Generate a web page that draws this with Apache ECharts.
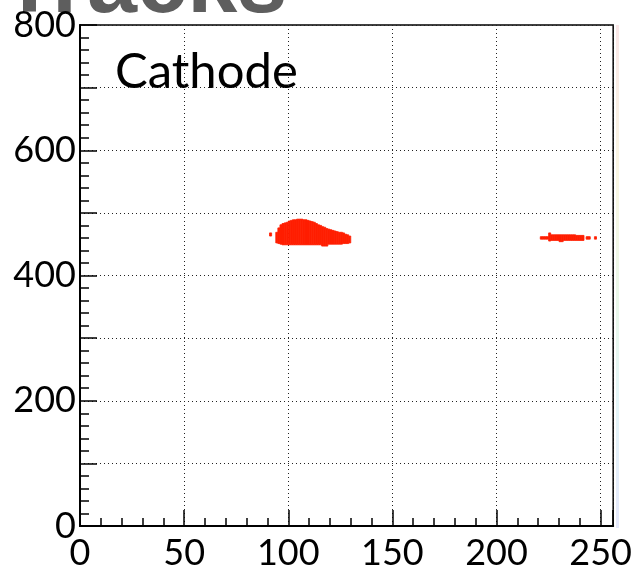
<!DOCTYPE html>
<html>
<head>
<meta charset="utf-8">
<script src="https://cdn.jsdelivr.net/npm/echarts@6/dist/echarts.min.js"></script>
<style>
  html, body { margin: 0; padding: 0; background: #fff; }
  #chart { width: 635px; height: 571px; }
</style>
</head>
<body>
<div id="chart"></div>
<script>
// Hit map: each filled column is one x bin (width 1) spanning [low, high] in y.
const hitCol  = [91,
  94, 95, 96, 97, 98, 99, 100, 101, 102, 103, 104, 105, 106, 107, 108, 109, 110,
  111, 112, 113, 114, 115, 116, 117, 118, 119, 120, 121, 122, 123, 124, 125, 126,
  127, 128, 129,
  221, 222, 223, 224, 225, 226, 227, 228, 229, 230, 231, 232, 233, 234, 235, 236,
  237, 238, 239, 240, 241, 243, 244, 247];
const hitLow  = [463,
  452, 451, 450, 449, 449, 449, 449, 449, 449, 449, 449, 449, 449, 449, 449, 449, 449,
  449, 449, 449, 449, 449, 447, 447, 447, 450, 450, 450, 450, 450, 450, 450, 451,
  451, 451, 452,
  458, 458, 458, 458, 455, 456, 456, 456, 456, 454, 454, 456, 456, 456, 456, 456,
  456, 456, 456, 456, 456, 458, 458, 458];
const hitHigh = [468,
  469, 476, 481, 483, 484, 485, 487, 488, 489, 489, 490, 490, 490, 489, 489, 488, 487,
  486, 485, 483, 481, 480, 478, 477, 475, 474, 473, 472, 471, 470, 469, 469, 468,
  466, 465, 463,
  462, 462, 462, 462, 468, 465, 465, 465, 465, 465, 465, 465, 465, 465, 465, 465,
  465, 464, 464, 464, 464, 462, 462, 462];

const xTicks = [0, 50, 100, 150, 200, 250];
const yTicks = [0, 200, 400, 600, 800];

const hits = hitCol.map((x, i) => [x, hitLow[i], hitHigh[i]]);

const labelFont = 'Lato, "Liberation Sans", sans-serif';
const gridDots = { color: '#222', width: 1, type: [1, 3] };
const hitRed = '#ff1e00';

const chart = echarts.init(document.getElementById('chart'), null, { renderer: 'canvas' });

chart.setOption({
  animation: false,
  backgroundColor: '#fff',
  grid: {
    left: 80, top: 25, width: 535, height: 503,
    show: true, borderColor: '#000', borderWidth: 1.5, backgroundColor: 'transparent'
  },
  xAxis: [
    {
      type: 'value', min: 0, max: 256, interval: 50, position: 'bottom',
      axisLine: { show: true, onZero: false, lineStyle: { color: '#000', width: 2 } },
      axisTick: { show: true, inside: true, length: 16, lineStyle: { color: '#000', width: 1.5 } },
      axisLabel: {
        show: true, color: '#000', fontSize: 36, fontFamily: labelFont, margin: 9,
        formatter: v => (xTicks.indexOf(v) >= 0 ? String(v) : '')
      },
      splitLine: { show: true, lineStyle: gridDots }
    },
    {
      type: 'value', min: 0, max: 256, interval: 10, position: 'bottom',
      axisLine: { show: false },
      axisTick: { show: true, inside: true, length: 8, lineStyle: { color: '#000', width: 1.5 } },
      axisLabel: { show: false },
      splitLine: { show: false }
    }
  ],
  yAxis: {
    type: 'value', min: 0, max: 800, interval: 100,
    axisLine: { show: true, onZero: false, lineStyle: { color: '#000', width: 2 } },
    axisTick: { show: true, inside: true, length: 17, lineStyle: { color: '#000', width: 1.5 } },
    minorTick: { show: true, splitNumber: 5, length: 9, lineStyle: { color: '#000', width: 1.5 } },
    axisLabel: {
      show: true, color: '#000', fontSize: 36, fontFamily: labelFont, margin: 4,
      formatter: v => (yTicks.indexOf(v) >= 0 ? String(v) : '')
    },
    splitLine: { show: true, lineStyle: gridDots }
  },
  series: [{
    type: 'custom',
    xAxisIndex: 0,
    data: hits,
    renderItem: (params, api) => {
      const x = api.value(0), lo = api.value(1), hi = api.value(2);
      const p0 = api.coord([x, hi]);
      const p1 = api.coord([x + 1, lo]);
      return {
        type: 'rect',
        shape: { x: p0[0], y: p0[1], width: p1[0] - p0[0], height: p1[1] - p0[1] },
        style: { fill: hitRed, stroke: hitRed, lineWidth: 0.8 }
      };
    }
  }],
  graphic: [
    {
      type: 'text', left: 2, top: -58, silent: true,
      style: {
        text: 'Tracks', fill: '#5e5e5e', fontSize: 90, fontWeight: 'bold',
        fontFamily: '"Liberation Sans", sans-serif',
        shadowColor: 'rgba(0,0,0,0.55)', shadowBlur: 6, shadowOffsetY: 3
      }
    },
    {
      type: 'text', left: 115, top: 48, silent: true,
      style: { text: 'Cathode', fill: '#000', fontSize: 49, fontFamily: labelFont }
    },
    {
      type: 'rect', left: 616, top: 25, silent: true,
      shape: { width: 3, height: 503 },
      style: {
        opacity: 0.55,
        fill: new echarts.graphic.LinearGradient(0, 0, 0, 1, [
          { offset: 0, color: '#f6d4d4' },
          { offset: 0.3, color: '#f6f0cc' },
          { offset: 0.55, color: '#d8f2d8' },
          { offset: 0.75, color: '#d0f0f4' },
          { offset: 1, color: '#d0d6f8' }
        ])
      }
    }
  ]
});
</script>
</body>
</html>
